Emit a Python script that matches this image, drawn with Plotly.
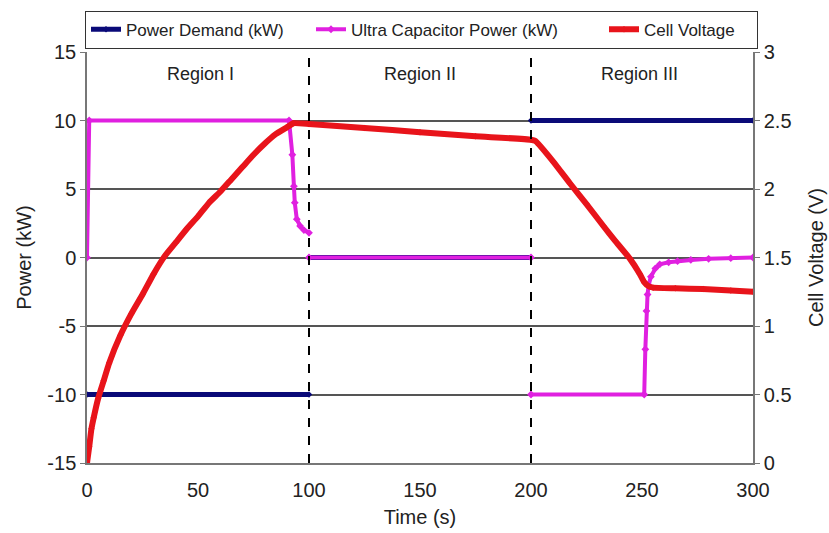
import plotly.graph_objects as go

# ---- data (None = break between regions) ----
demand_t = [0, 100, None, 100, 200, None, 200, 300]
demand_kw = [-10, -10, None, 0, 0, None, 10, 10]

uc_t = [0, 1, 91, 92.5, 93.2, 93.6, 94.5, 96, 97.7, 100, None, 100, 200, None,
        200, 251, 251.5, 252, 252.5, 253, 254, 256, 258, 262, 266, 272, 280, 290, 300]
uc_kw = [0, 10, 10, 7.5, 5.2, 4.0, 2.8, 2.3, 2.0, 1.8, None, 0, 0, None,
         -10, -10, -6.7, -3.9, -2.7, -2.0, -1.4, -0.8, -0.5, -0.35, -0.27, -0.18, -0.1, -0.05, 0]

volt_t = [0, 1, 2, 3, 5, 7.5, 10, 15, 20, 25, 30, 35, 40, 45, 50, 55, 60, 65, 70,
          75, 80, 85, 90, 93, 100, 125, 150, 175, 200, 202, 210, 217.6, 225,
          232.6, 238, 244.6, 249, 251, 253, 255, 265, 277.5, 290, 300]
volt_v = [0, 0.12, 0.25, 0.33, 0.47, 0.6, 0.73, 0.93, 1.09, 1.23, 1.38, 1.51, 1.61,
          1.71, 1.80, 1.90, 1.98, 2.07, 2.16, 2.25, 2.33, 2.40, 2.45, 2.48, 2.475,
          2.445, 2.415, 2.385, 2.36, 2.35, 2.2, 2.04, 1.89, 1.73, 1.62, 1.49, 1.38,
          1.32, 1.29, 1.28, 1.275, 1.27, 1.26, 1.25]

power_ticks = [-15, -10, -5, 0, 5, 10, 15]
power_tick_text = ["-15", "-10", "-5", "0", "5", "10", "15"]
volt_ticks = [0, 0.5, 1, 1.5, 2, 2.5, 3]
volt_tick_text = ["0", "0.5", "1", "1.5", "2", "2.5", "3"]
time_ticks = [0, 50, 100, 150, 200, 250, 300]

regions = ["Region I", "Region II", "Region III"]
region_x = [51, 150, 249]
boundaries = [100, 200]

navy = "#0a0a78"
magenta = "#e020e0"
red = "#e8141b"

fig = go.Figure()
fig.add_trace(go.Scatter(x=demand_t, y=demand_kw, name="Power Demand (kW)",
                         mode="lines+markers", line=dict(color=navy, width=5),
                         marker=dict(symbol="diamond", size=5, color=navy),
                         legendwidth=180))
fig.add_trace(go.Scatter(x=uc_t, y=uc_kw, name="Ultra Capacitor Power (kW)",
                         mode="lines+markers", line=dict(color=magenta, width=4),
                         marker=dict(symbol="diamond", size=6, color=magenta),
                         legendwidth=248))
fig.add_trace(go.Scatter(x=volt_t, y=volt_v, name="Cell Voltage", yaxis="y2",
                         mode="lines+markers",
                         line=dict(color=red, width=6, shape="spline", smoothing=0.4),
                         marker=dict(symbol="diamond", size=5, color=red),
                         legendwidth=108))

for b in boundaries:
    fig.add_shape(type="line", x0=b, x1=b, xref="x", y0=0, y1=1, yref="paper",
                  line=dict(color="black", width=2, dash="dash"))

for r, x in zip(regions, region_x):
    fig.add_annotation(x=x, y=0.975, xref="x", yref="paper", text=r, showarrow=False,
                       font=dict(size=18, color="#222"))

font = "Liberation Sans, Arial, sans-serif"
fig.update_layout(
    width=829, height=533,
    margin=dict(l=87, r=76, t=52, b=70, autoexpand=False),
    paper_bgcolor="white", plot_bgcolor="white",
    font=dict(family=font, color="#222", size=20),
    showlegend=True,
    legend=dict(orientation="h", x=-0.003, xanchor="left", y=1.008, yanchor="bottom",
                bordercolor="#333", borderwidth=1, font=dict(size=17),
                itemwidth=30, tracegroupgap=0),
    xaxis=dict(range=[0, 300], tickvals=time_ticks, automargin=False,
               showgrid=False, zeroline=False, showline=True, linecolor="#777",
               linewidth=1.5, ticks="outside", ticklen=8, tickcolor="rgba(0,0,0,0)",
               title=dict(text="Time (s)", font=dict(size=20), standoff=10)),
    yaxis=dict(range=[-15, 15], tickvals=power_ticks, ticktext=power_tick_text,
               automargin=False, showgrid=True, gridcolor="#555", gridwidth=1.5,
               zeroline=False, showline=True, linecolor="#777", linewidth=1.5,
               ticks="outside", ticklen=5, tickcolor="#777",
               title=dict(text="Power (kW)", font=dict(size=20), standoff=10)),
    yaxis2=dict(range=[0, 3], tickvals=volt_ticks, ticktext=volt_tick_text,
                automargin=False, overlaying="y", side="right", showgrid=False,
                zeroline=False, showline=True, linecolor="#777", linewidth=1.5,
                ticks="outside", ticklen=5, tickcolor="#777",
                title=dict(text="Cell Voltage (V)", font=dict(size=20), standoff=18)),
)

fig.write_html("out.html", config={"displayModeBar": False},
               post_script="document.body.style.margin='0px';")
